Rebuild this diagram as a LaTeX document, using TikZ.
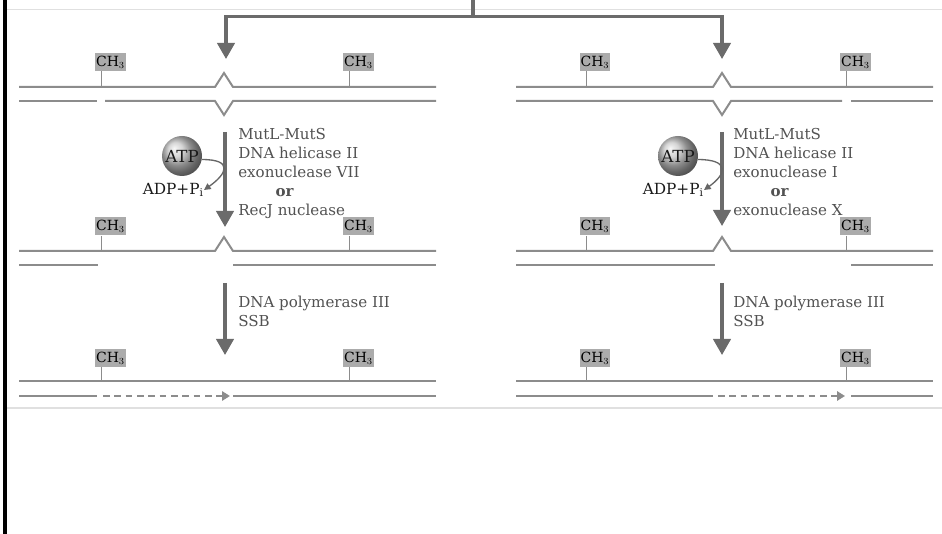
\documentclass[tikz,border=0pt]{standalone}
\usepackage{fontspec}
\setmainfont{DejaVu Serif}
\usetikzlibrary{arrows.meta,shadings}

\begin{document}
\begin{tikzpicture}[
  x=0.75pt,y=-0.75pt,
  strand/.style={draw=black!45,line width=1.5pt},
  stem/.style={draw=black!45,line width=0.6pt},
  tag/.style={fill=black!33,text=black,font=\fontsize{10.5}{11}\selectfont,inner sep=0pt,minimum width=23pt,minimum height=13.5pt},
  flow/.style={draw=black!58,line width=2.3pt,-{Triangle[length=12pt,width=13pt]}},
  newdna/.style={draw=black!45,line width=1.6pt,dash pattern=on 5pt off 3.5pt,-{Triangle[length=6pt,width=7pt]}},
  enzyme/.style={font=\fontsize{11.3}{14.25}\selectfont,text=black!68,align=left,anchor=north west,inner sep=0pt},
  atp/.style={circle,ball color=black!22,minimum size=30pt,inner sep=0pt,font=\fontsize{12.5}{13}\selectfont,text=black!90},
  adp/.style={font=\fontsize{11.5}{12}\selectfont,text=black!90,inner sep=0pt,anchor=east},
  cycle/.style={draw=black!60,line width=1pt,-{Triangle[length=5pt,width=5pt]}},
]
\useasboundingbox (0,0) rectangle (942,534);
\draw[black!12,line width=1.2pt] (7,9.5) -- (942,9.5);
\draw[black!12,line width=1.2pt] (7,408) -- (942,408);
\draw[black,line width=2.3pt] (5,0) -- (5,534);

\coordinate (src) at (473,0);
\coordinate (fork) at (473,16.5);
\coordinate (tipL) at (226,59);
\coordinate (tipR) at (722,59);
\draw[flow,-] (src) -- (fork);
\draw[flow] (fork) -| (tipL);
\draw[flow] (fork) -| (tipR);

% left: nick in the lower strand
\node[tag] (l1a) at (110.5,62) {CH$_3$};
\node[tag] (l1b) at (358.5,62) {CH$_3$};
\draw[stem] ([xshift=4.5pt]l1a.south west) -- ++(0,16);
\draw[stem] ([xshift=4.5pt]l1b.south west) -- ++(0,16);
\draw[strand] (19,87) -- (215,87) -- (224,73) -- (233,87) -- (436,87);
\draw[strand] (19,101) -- (97,101);
\draw[strand] (105,101) -- (215,101) -- (224,115) -- (233,101) -- (436,101);

\coordinate (l2s) at (225,132);
\coordinate (l2e) at (225,227);
\draw[flow] (l2s) -- (l2e);
\node[enzyme] (l2t) at (238,128) {MutL-MutS\\DNA helicase II\\exonuclease VII\\\hspace*{28pt}\textbf{or}\\RecJ nuclease};
\node[atp] (atpL) at (182,156) {ATP};
\node[adp] (adpL) at (204,190) {ADP+P$_\mathrm{i}$};
\draw[cycle] (atpL.-10) .. controls ([xshift=24pt]atpL.-10) and ([xshift=17pt,yshift=12pt]adpL.east) .. (adpL.east);

\node[tag] (l2a) at (110.5,226.5) {CH$_3$};
\node[tag] (l2b) at (358.5,226.5) {CH$_3$};
\draw[stem] ([xshift=4.5pt]l2a.south west) -- ++(0,16);
\draw[stem] ([xshift=4.5pt]l2b.south west) -- ++(0,16);
\draw[strand] (19,251) -- (215,251) -- (224,237) -- (233,251) -- (436,251);
\draw[strand] (19,265) -- (98,265);
\draw[strand] (233,265) -- (436,265);

\coordinate (l3s) at (225,283);
\coordinate (l3e) at (225,355);
\draw[flow] (l3s) -- (l3e);
\node[enzyme] (l3t) at (238,296) {DNA polymerase III\\SSB};

\node[tag] (l3a) at (110.5,358) {CH$_3$};
\node[tag] (l3b) at (358.5,358) {CH$_3$};
\draw[stem] ([xshift=4.5pt]l3a.south west) -- ++(0,14);
\draw[stem] ([xshift=4.5pt]l3b.south west) -- ++(0,14);
\draw[strand] (19,381) -- (436,381);
\draw[strand] (19,396) -- (97,396);
\draw[newdna] (103,396) -- (230,396);
\draw[strand] (233,396) -- (436,396);

% right: nick beyond the mismatch
\node[tag] (r1a) at (595,62) {CH$_3$};
\node[tag] (r1b) at (855.5,62) {CH$_3$};
\draw[stem] ([xshift=5pt]r1a.south west) -- ++(0,16);
\draw[stem] ([xshift=5pt]r1b.south west) -- ++(0,16);
\draw[strand] (516,87) -- (713,87) -- (722,73) -- (731,87) -- (933,87);
\draw[strand] (516,101) -- (713,101) -- (722,115) -- (731,101) -- (842,101);
\draw[strand] (851,101) -- (933,101);

\coordinate (r2s) at (722,132);
\coordinate (r2e) at (722,226);
\draw[flow] (r2s) -- (r2e);
\node[enzyme] (r2t) at (733,128) {MutL-MutS\\DNA helicase II\\exonuclease I\\\hspace*{28pt}\textbf{or}\\exonuclease X};
\node[atp] (atpR) at (678,156) {ATP};
\node[adp] (adpR) at (704,190) {ADP+P$_\mathrm{i}$};
\draw[cycle] (atpR.-10) .. controls ([xshift=24pt]atpR.-10) and ([xshift=17pt,yshift=12pt]adpR.east) .. (adpR.east);

\node[tag] (r2a) at (595,226.5) {CH$_3$};
\node[tag] (r2b) at (855.5,226.5) {CH$_3$};
\draw[stem] ([xshift=5pt]r2a.south west) -- ++(0,16);
\draw[stem] ([xshift=5pt]r2b.south west) -- ++(0,16);
\draw[strand] (516,251) -- (713,251) -- (722,237) -- (731,251) -- (933,251);
\draw[strand] (516,265) -- (715,265);
\draw[strand] (851,265) -- (933,265);

\coordinate (r3s) at (722,283);
\coordinate (r3e) at (722,355);
\draw[flow] (r3s) -- (r3e);
\node[enzyme] (r3t) at (733,296) {DNA polymerase III\\SSB};

\node[tag] (r3a) at (595,358) {CH$_3$};
\node[tag] (r3b) at (855.5,358) {CH$_3$};
\draw[stem] ([xshift=5pt]r3a.south west) -- ++(0,14);
\draw[stem] ([xshift=5pt]r3b.south west) -- ++(0,14);
\draw[strand] (516,381) -- (933,381);
\draw[strand] (516,396) -- (713,396);
\draw[newdna] (718,396) -- (845,396);
\draw[strand] (851,396) -- (933,396);

\end{tikzpicture}
\end{document}
